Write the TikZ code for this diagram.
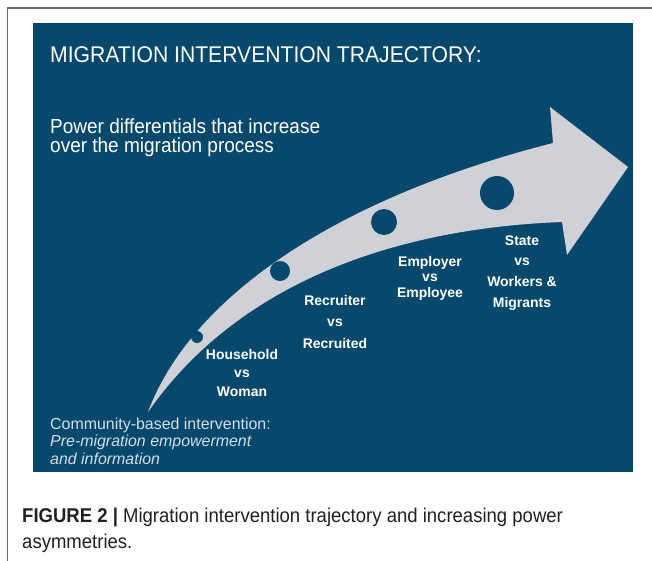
\documentclass[tikz,border=0pt]{standalone}
\usepackage{fontspec}
\setmainfont{Liberation Sans}
\newfontfamily\condfont{Liberation Sans}[FakeStretch=0.93]
\definecolor{panelblue}{RGB}{7,73,108}
\definecolor{arrowgray}{RGB}{207,209,215}
\definecolor{framegray}{RGB}{110,110,110}
\definecolor{softtext}{RGB}{214,221,229}
\definecolor{captext}{RGB}{35,31,32}
\tikzset{
  dotmark/.style={circle, fill=panelblue, inner sep=0pt},
  lbl/.style={align=center, inner sep=0pt, text=white, font=\bfseries\fontsize{14}{#1}\selectfont},
  plain/.style={inner sep=0pt, align=left}
}
\begin{document}
\begin{tikzpicture}[x=1bp,y=-1bp]
\useasboundingbox (0,0) rectangle (652,561);
\fill[white] (0,0) rectangle (652,561);
\draw[framegray, line width=1.4bp] (7.5,561) -- (7.5,8) -- (652,8);
\fill[panelblue] (33,23) rectangle (633,472);
% arrow
\fill[arrowgray] (148,412) .. controls (190,300) and (330,200) .. (553,143)
  -- (550,107) -- (628,167) -- (567,255) -- (562,222)
  .. controls (400,228) and (240,280) .. cycle;
% dots
\node[dotmark, minimum size=12bp] (d1) at (197,337) {};
\node[dotmark, minimum size=20bp] (d2) at (280,271) {};
\node[dotmark, minimum size=26bp] (d3) at (384,222) {};
\node[dotmark, minimum size=34bp] (d4) at (497,193) {};
% texts (base anchor = baseline of the last line)
\node[plain, anchor=base west, text=white, font=\condfont\fontsize{22.8}{26}\selectfont] (title) at (50,63) {MIGRATION INTERVENTION TRAJECTORY:};
\node[plain, anchor=base west, text=white, font=\condfont\fontsize{20.5}{19.5}\selectfont] (sub) at (50,153) {Power differentials that increase\\over the migration process};
\node[lbl=19] (l1) at (242,373) {Household\\vs\\Woman};
\node[lbl=22] (l2) at (335,322) {Recruiter\\vs\\Recruited};
\node[lbl=15.5] (l3) at (430,278) {Employer\\vs\\Employee};
\node[lbl=21] (l4) at (522,273) {State\\vs\\Workers \&\\Migrants};
\node[plain, anchor=base west, text=softtext, font=\fontsize{16}{17.5}\selectfont] (comm) at (50,464) {Community-based intervention:\\\itshape Pre-migration empowerment\\\itshape and information};
\node[plain, anchor=base west, text=captext, font=\condfont\fontsize{20}{26}\selectfont] (cap) at (22,548) {\textbf{FIGURE 2 |} Migration intervention trajectory and increasing power\\asymmetries.};
\end{tikzpicture}
\end{document}
